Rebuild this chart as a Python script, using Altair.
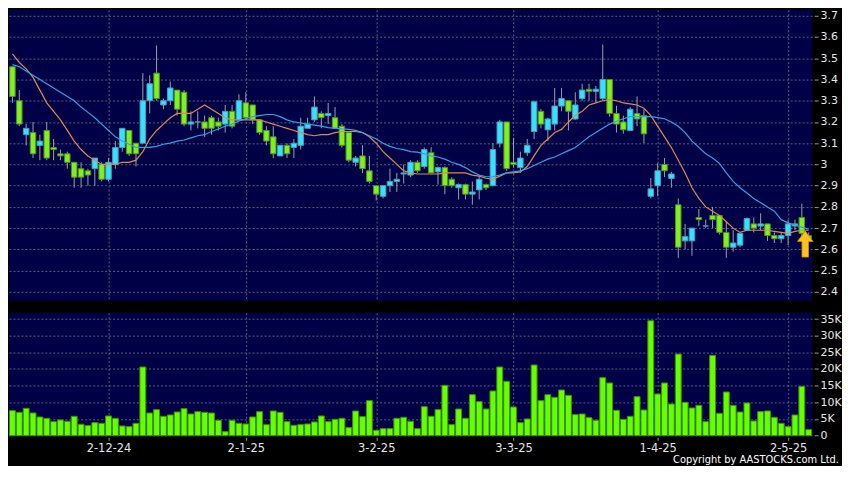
import altair as alt
import pandas as pd

# ---------------- data ----------------
tick_idx = [14, 34, 53, 73, 94, 113]
tick_labels = ["2-12-24", "2-1-25", "3-2-25", "3-3-25", "1-4-25", "2-5-25"]

open_ = [3.46, 3.30, 3.14, 3.15, 3.09, 3.16, 3.08, 3.05, 3.05, 3.01,
         2.98, 2.97, 2.98, 3.00, 2.93, 3.00, 3.08, 3.16, 3.10, 3.10,
         3.30, 3.43, 3.28, 3.30, 3.35, 3.34, 3.19, 3.20, 3.20, 3.22,
         3.20, 3.19, 3.25, 3.21, 3.29, 3.28, 3.21, 3.16, 3.13, 3.04,
         3.09, 3.08, 3.09, 3.17, 3.21, 3.24, 3.23, 3.22, 3.18, 3.15,
         3.01, 3.04, 2.97, 2.90, 2.85, 2.90, 2.92, 2.955, 2.95, 3.01,
         2.99, 3.055, 2.965, 2.985, 2.93, 2.89, 2.905, 2.86, 2.88, 2.905,
         2.90, 3.10, 3.20, 3.01, 2.985, 3.055, 3.155, 3.25, 3.163, 3.19,
         3.275, 3.30, 3.214, 3.31, 3.354, 3.344, 3.31, 3.40, 3.24, 3.20,
         3.16, 3.24, 3.23, 2.85, 2.90, 3.00, 2.934, 2.81, 2.64, 2.64,
         2.75, 2.71, 2.76, 2.76, 2.68, 2.61, 2.62, 2.69, 2.72, 2.71,
         2.72, 2.665, 2.65, 2.665, 2.71, 2.75, 2.665]
high = [3.46, 3.35, 3.19, 3.20, 3.14, 3.20, 3.12, 3.07, 3.06, 3.01,
        3.01, 2.98, 3.03, 3.01, 3.03, 3.11, 3.17, 3.16, 3.10, 3.43,
        3.42, 3.56, 3.31, 3.39, 3.35, 3.35, 3.25, 3.25, 3.23, 3.23,
        3.22, 3.28, 3.28, 3.33, 3.34, 3.28, 3.21, 3.18, 3.18, 3.09,
        3.10, 3.12, 3.22, 3.22, 3.32, 3.25, 3.29, 3.27, 3.19, 3.15,
        3.04, 3.09, 3.04, 2.90, 2.90, 2.98, 2.96, 3.00, 3.02, 3.02,
        3.08, 3.08, 2.99, 2.99, 2.94, 2.91, 2.91, 2.92, 2.95, 2.91,
        3.10, 3.21, 3.20, 3.125, 3.06, 3.12, 3.30, 3.26, 3.22, 3.36,
        3.36, 3.30, 3.34, 3.38, 3.38, 3.37, 3.565, 3.40, 3.276, 3.23,
        3.27, 3.32, 3.26, 2.936, 3.005, 3.03, 2.965, 2.84, 2.72, 2.70,
        2.79, 2.74, 2.80, 2.76, 2.73, 2.69, 2.675, 2.75, 2.75, 2.77,
        2.72, 2.68, 2.68, 2.74, 2.74, 2.815, 2.68]
low = [3.29, 3.18, 3.09, 3.03, 3.02, 3.02, 3.02, 3.02, 2.98, 2.89,
       2.89, 2.90, 2.90, 2.92, 2.92, 2.98, 3.06, 3.04, 2.99, 3.10,
       3.24, 3.30, 3.26, 3.28, 3.23, 3.18, 3.16, 3.17, 3.13, 3.14,
       3.16, 3.15, 3.17, 3.21, 3.21, 3.19, 3.14, 3.09, 3.03, 3.04,
       3.03, 3.03, 3.07, 3.17, 3.20, 3.17, 3.19, 3.17, 3.08, 3.01,
       2.99, 2.96, 2.91, 2.83, 2.84, 2.87, 2.87, 2.91, 2.94, 2.96,
       2.98, 2.96, 2.905, 2.86, 2.89, 2.835, 2.835, 2.81, 2.835, 2.88,
       2.90, 3.08, 2.97, 2.985, 2.96, 3.04, 3.12, 3.17, 3.11, 3.16,
       3.25, 3.16, 3.21, 3.30, 3.30, 3.29, 3.30, 3.225, 3.15, 3.145,
       3.16, 3.18, 3.10, 2.84, 2.85, 2.94, 2.89, 2.56, 2.60, 2.57,
       2.71, 2.70, 2.70, 2.67, 2.56, 2.59, 2.61, 2.69, 2.68, 2.69,
       2.64, 2.63, 2.63, 2.62, 2.69, 2.66, 2.64]
close = [3.32, 3.19, 3.17, 3.05, 3.11, 3.03, 3.07, 3.04, 3.01, 2.94,
         2.94, 2.95, 3.03, 2.93, 3.01, 3.08, 3.17, 3.05, 3.05, 3.30,
         3.38, 3.31, 3.30, 3.36, 3.26, 3.19, 3.20, 3.20, 3.17, 3.17,
         3.18, 3.25, 3.18, 3.30, 3.22, 3.21, 3.15, 3.11, 3.05, 3.09,
         3.05, 3.10, 3.18, 3.19, 3.27, 3.22, 3.24, 3.17, 3.09, 3.02,
         3.03, 2.98, 2.92, 2.86, 2.90, 2.92, 2.93, 2.96, 3.01, 2.97,
         3.07, 2.96, 2.985, 2.90, 2.90, 2.905, 2.86, 2.87, 2.93, 2.89,
         3.07, 3.20, 2.98, 3.00, 3.03, 3.09, 3.295, 3.19, 3.214, 3.275,
         3.31, 3.25, 3.28, 3.35, 3.344, 3.354, 3.40, 3.24, 3.19, 3.163,
         3.26, 3.214, 3.144, 2.885, 2.97, 2.97, 2.955, 2.61, 2.66, 2.70,
         2.74, 2.71, 2.74, 2.68, 2.61, 2.63, 2.675, 2.745, 2.70, 2.72,
         2.665, 2.65, 2.665, 2.72, 2.72, 2.675, 2.65]

volume_k = [7.5, 7.0, 8.2, 6.8, 5.6, 5.2, 4.2, 4.7, 4.3, 5.8,
            3.4, 3.0, 3.9, 3.7, 5.9, 5.2, 2.9, 2.7, 3.7, 20.6,
            6.8, 7.8, 5.8, 6.2, 7.1, 8.1, 6.5, 7.2, 7.0, 6.8,
            4.6, 1.2, 4.6, 3.7, 3.5, 5.6, 7.2, 3.3, 7.4, 7.0,
            4.2, 3.1, 3.3, 3.5, 4.1, 5.9, 4.2, 4.9, 5.2, 2.4,
            7.4, 5.7, 10.5, 1.6, 2.1, 2.1, 5.2, 5.5, 4.3,
            2.1, 8.7, 5.8, 7.8, 15.1, 3.3, 8.0, 5.2, 12.3, 10.2,
            8.0, 13.4, 20.6, 16.3, 8.6, 3.9, 5.0, 21.2, 10.5, 12.3,
            11.5, 13.7, 12.1, 6.3, 6.5, 5.4, 4.6, 17.4, 15.8, 7.6,
            4.9, 5.8, 11.7, 7.7, 34.5, 12.5, 15.8, 9.5, 24.5, 10.0,
            8.3, 9.1, 4.2, 24.1, 6.7, 13.1, 9.1, 7.1, 9.8, 4.4,
            7.2, 7.4, 5.5, 3.7, 2.7, 6.2, 14.8, 1.8]

ma_short = [3.52, 3.48, 3.45, 3.41, 3.35, 3.29, 3.25, 3.21, 3.16, 3.11,
            3.07, 3.04, 3.02, 3.00, 3.00, 3.00, 3.01, 3.01, 3.02, 3.06,
            3.12, 3.16, 3.19, 3.22, 3.24, 3.24, 3.24, 3.26, 3.28, 3.26,
            3.24, 3.22, 3.21, 3.21, 3.21, 3.21, 3.21, 3.20, 3.19, 3.18,
            3.17, 3.16, 3.15, 3.14, 3.135, 3.14, 3.14, 3.15, 3.155, 3.155,
            3.155, 3.15, 3.13, 3.10, 3.06, 3.03, 3.00, 2.97, 2.96, 2.955,
            2.955, 2.955, 2.955, 2.96, 2.96, 2.96, 2.96, 2.95, 2.945, 2.935,
            2.93, 2.945, 2.96, 2.96, 2.965, 2.99, 3.04, 3.09, 3.12, 3.15,
            3.165, 3.20, 3.23, 3.25, 3.28, 3.29, 3.30, 3.305, 3.30, 3.29,
            3.285, 3.28, 3.265, 3.23, 3.18, 3.13, 3.08, 3.02, 2.96, 2.89,
            2.84, 2.80, 2.78, 2.76, 2.73, 2.70, 2.68, 2.69, 2.69, 2.69,
            2.69, 2.685, 2.68, 2.675, 2.685, 2.69, 2.69]
ma_long = [3.47, 3.46, 3.44, 3.42, 3.40, 3.38, 3.36, 3.34, 3.32, 3.30,
           3.27, 3.245, 3.22, 3.19, 3.16, 3.13, 3.11, 3.095, 3.08, 3.08,
           3.08, 3.085, 3.095, 3.10, 3.11, 3.115, 3.125, 3.135, 3.14, 3.155,
           3.167, 3.18, 3.19, 3.205, 3.215, 3.225, 3.23, 3.235, 3.235, 3.225,
           3.21, 3.20, 3.195, 3.19, 3.185, 3.18, 3.173, 3.17, 3.167, 3.165,
           3.16, 3.15, 3.135, 3.12, 3.10, 3.085, 3.075, 3.07, 3.06, 3.058,
           3.05, 3.04, 3.035, 3.025, 3.01, 3.00, 2.985, 2.965, 2.95, 2.942,
           2.943, 2.95, 2.96, 2.965, 2.97, 2.98, 2.995, 3.01, 3.025, 3.035,
           3.05, 3.065, 3.08, 3.105, 3.13, 3.15, 3.17, 3.19, 3.203, 3.215,
           3.225, 3.225, 3.225, 3.225, 3.22, 3.215, 3.20, 3.18, 3.15, 3.11,
           3.08, 3.05, 3.03, 3.005, 2.96, 2.92, 2.89, 2.865, 2.84, 2.82,
           2.80, 2.78, 2.74, 2.725, 2.715, 2.705, 2.695]

marker_idx = [115.5]
marker_price = [2.625]

price_ticks = [2.4, 2.5, 2.6, 2.7, 2.8, 2.9, 3.0, 3.1, 3.2, 3.3, 3.4, 3.5, 3.6, 3.7]
volume_ticks = [0, 5, 10, 15, 20, 25, 30, 35]
copyright_text = ["Copyright by AASTOCKS.com Ltd."]

# ---------------- styling ----------------
NAVY = "#000046"
GRID = "#5c5c82"
UP_FILL, UP_STROKE = "#38e0ff", "#4a9fb5"
DN_FILL, DN_STROKE = "#80f020", "#4f8f2a"
LABEL = "#e6e6e6"
FONT = "DejaVu Sans"
NARROW = "DejaVu Sans Condensed, Liberation Sans Narrow, Liberation Sans"

PW, PH, VH, GAP = 806, 292, 124, 12

n = len(close)
df = pd.DataFrame({
    "idx": list(range(n)),
    "open": open_, "high": high, "low": low, "close": close,
    "vol": volume_k, "ma_s": ma_short, "ma_l": ma_long,
})
df["dir"] = ["up" if c >= o else "down" for o, c in zip(open_, close)]
df["v0"] = 0

label_expr = "''"
for i, lab in reversed(list(zip(tick_idx, tick_labels))):
    label_expr = f"datum.value == {i} ? '{lab}' : ({label_expr})"

xscale = alt.Scale(domain=[-0.5, n - 0.5], nice=False, zero=False)
pscale = alt.Scale(domain=[2.358, 3.728], nice=False, zero=False)
vscale = alt.Scale(domain=[-0.2, 36.9], nice=False, zero=False)

x_price_axis = alt.Axis(values=tick_idx, labels=False, ticks=False, domain=False,
                        grid=True, gridDash=[2, 2], gridColor=GRID, title=None)
y_price_axis = alt.Axis(orient="right", values=price_ticks, format=".2~f", title=None,
                        grid=True, gridDash=[2, 2], gridColor=GRID, domain=False,
                        tickSize=4, offset=2, labelPadding=2, tickColor="#9a9a9a",
                        labelColor=LABEL, labelFont=FONT, labelFontSize=11)

base = alt.Chart(df)
xp = alt.X("idx:Q", scale=xscale, axis=x_price_axis)

wicks = base.mark_rule(color="#a0a0a0", strokeWidth=1).encode(
    x=xp, y=alt.Y("low:Q", scale=pscale, axis=y_price_axis), y2="high:Q")

bodies = base.transform_calculate(
    x0="datum.idx - 0.4", x1="datum.idx + 0.4"
).mark_rect(strokeWidth=1).encode(
    x=alt.X("x0:Q", scale=xscale, axis=x_price_axis), x2="x1:Q",
    y=alt.Y("open:Q", scale=pscale, axis=y_price_axis), y2="close:Q",
    fill=alt.Fill("dir:N", scale=alt.Scale(domain=["up", "down"], range=[UP_FILL, DN_FILL]), legend=None),
    stroke=alt.Stroke("dir:N", scale=alt.Scale(domain=["up", "down"], range=[UP_STROKE, DN_STROKE]), legend=None),
)

line_s = base.mark_line(color="#e0884f", strokeWidth=1.2).encode(
    x=xp, y=alt.Y("ma_s:Q", scale=pscale, axis=y_price_axis))
line_l = base.mark_line(color="#2fa3e6", strokeWidth=1.2).encode(
    x=xp, y=alt.Y("ma_l:Q", scale=pscale, axis=y_price_axis))

ARROW = "M0,-1 L0.6,-0.2 L0.25,-0.2 L0.25,1 L-0.25,1 L-0.25,-0.2 L-0.6,-0.2 Z"
marker = alt.Chart(pd.DataFrame({"idx": marker_idx, "p": marker_price})).mark_point(
    shape=ARROW, size=680, filled=True, fill="#ffc21a", stroke="#d98a00",
    strokeWidth=0.8, opacity=1
).encode(x=xp, y=alt.Y("p:Q", scale=pscale, axis=y_price_axis))

price = alt.layer(wicks, bodies, line_s, line_l, marker).properties(width=PW, height=PH)

x_vol_axis = alt.Axis(values=tick_idx, labelExpr=label_expr, title=None, domain=False,
                      grid=True, gridDash=[2, 2], gridColor=GRID,
                      ticks=True, tickSize=3, offset=1, tickColor="#9a9a9a",
                      labelPadding=2, labelColor=LABEL, labelFont=FONT, labelFontSize=11.5,
                      labelFlush=False)
y_vol_axis = alt.Axis(orient="right", values=volume_ticks, title=None,
                      labelExpr="datum.value == 0 ? '0' : datum.value + 'K'",
                      grid=True, gridDash=[2, 2], gridColor=GRID, domain=False,
                      tickSize=4, offset=2, labelPadding=2, tickColor="#9a9a9a",
                      labelColor=LABEL, labelFont=FONT, labelFontSize=11)

vol_bars = base.transform_calculate(
    x0="datum.idx - 0.43", x1="datum.idx + 0.43"
).mark_rect(fill="#66ff00", stroke="#3d8f0a", strokeWidth=1).encode(
    x=alt.X("x0:Q", scale=xscale, axis=x_vol_axis), x2="x1:Q",
    y=alt.Y("vol:Q", scale=vscale, axis=y_vol_axis), y2="v0:Q",
)

copyright = alt.Chart(pd.DataFrame({"t": copyright_text})).mark_text(
    align="right", baseline="alphabetic", fontSize=11, color="#ffffff", font=NARROW
).encode(text="t:N", x=alt.value(PW + 27), y=alt.value(VH + 27))

volume = alt.layer(vol_bars, copyright).properties(width=PW, height=VH)

chart = alt.vconcat(price, volume, spacing=GAP).properties(
    background="#000000",
    padding={"left": 0, "top": 0, "right": 0, "bottom": 0},
).configure_view(fill=NAVY, stroke=None).resolve_scale(x="shared")

chart.save("out.html", embed_options={"renderer": "svg", "actions": False})
